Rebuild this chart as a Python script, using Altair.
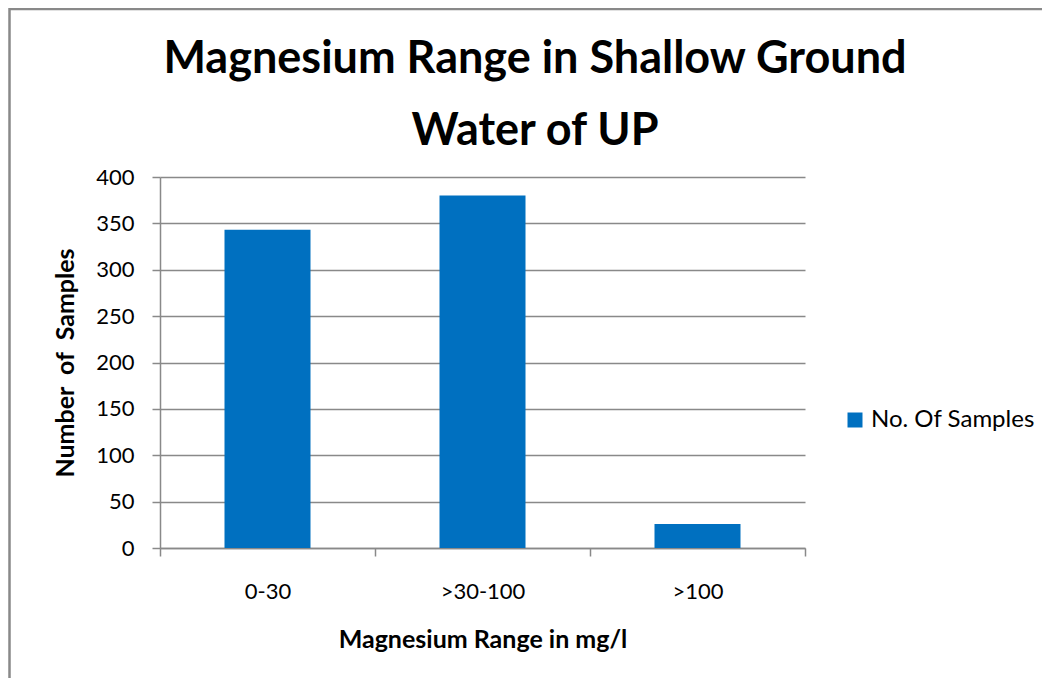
import altair as alt
import pandas as pd

categories = ["0-30", ">30-100", ">100"]
samples = [343, 380, 26]
series_name = ["No. Of Samples"] * 3
title_lines = ["Magnesium Range in Shallow Ground", "Water of UP"]

df = pd.DataFrame({"range": categories, "count": samples, "series": series_name})

GRAY = "#898989"
FONT = "Lato"
NB = "\u00a0"

bars = alt.Chart(df).mark_bar(width=alt.RelativeBandSize(0.4), color="#0070C0").encode(
    x=alt.X("range:N", sort=categories, scale=alt.Scale(paddingInner=0, paddingOuter=0),
            axis=alt.Axis(title="Magnesium Range in mg/l", labelAngle=0, tickBand="extent",
                          labelPadding=25, titlePadding=25, tickSize=8)),
    y=alt.Y("count:Q", scale=alt.Scale(domain=[0, 400], nice=False),
            axis=alt.Axis(title=f"Number {NB}of {NB}Samples", values=list(range(0, 401, 50)),
                          labelPadding=18, titlePadding=17, tickSize=8, grid=True)),
    color=alt.Color("series:N", scale=alt.Scale(range=["#0070C0"]),
                    legend=alt.Legend(title=None, orient="none", legendX=683, legendY=231,
                                      symbolType="square", symbolSize=225, labelFontSize=24,
                                      labelFont=FONT, labelColor="#000000", labelOffset=4,
                                      labelLimit=400, padding=0, symbolStrokeWidth=0,
                                      symbolOpacity=1)),
)

title = alt.Chart(pd.DataFrame({"a": [0]})).mark_text(
    font=FONT, fontSize=45, fontWeight="bold", color="#000000",
    align="center", baseline="alphabetic", lineHeight=72,
).encode(x=alt.value(375), y=alt.value(-104), text=alt.value(title_lines))

border = alt.Chart(pd.DataFrame({"a": [0]})).mark_rect(
    fill=None, stroke=GRAY, strokeWidth=2.5, clip=False
).encode(x=alt.value(-150.5), y=alt.value(-168), x2=alt.value(2000), y2=alt.value(2000))

chart = alt.layer(border, title, bars).properties(
    width=645, height=371,
    autosize=alt.AutoSizeParams(type="none"),
    padding={"left": 152, "top": 169, "right": 237, "bottom": 130},
).configure_view(stroke=None).configure_axis(
    labelFont=FONT, labelFontSize=22, labelColor="#000000",
    titleFont=FONT, titleFontSize=25, titleFontWeight="bold", titleColor="#000000",
    domainColor=GRAY, domainWidth=1.5, tickColor=GRAY, tickWidth=1.5,
    gridColor=GRAY, gridWidth=1.3,
).configure_axisX(grid=False)

chart.save("out.html", embed_options={"renderer": "svg", "actions": False})
